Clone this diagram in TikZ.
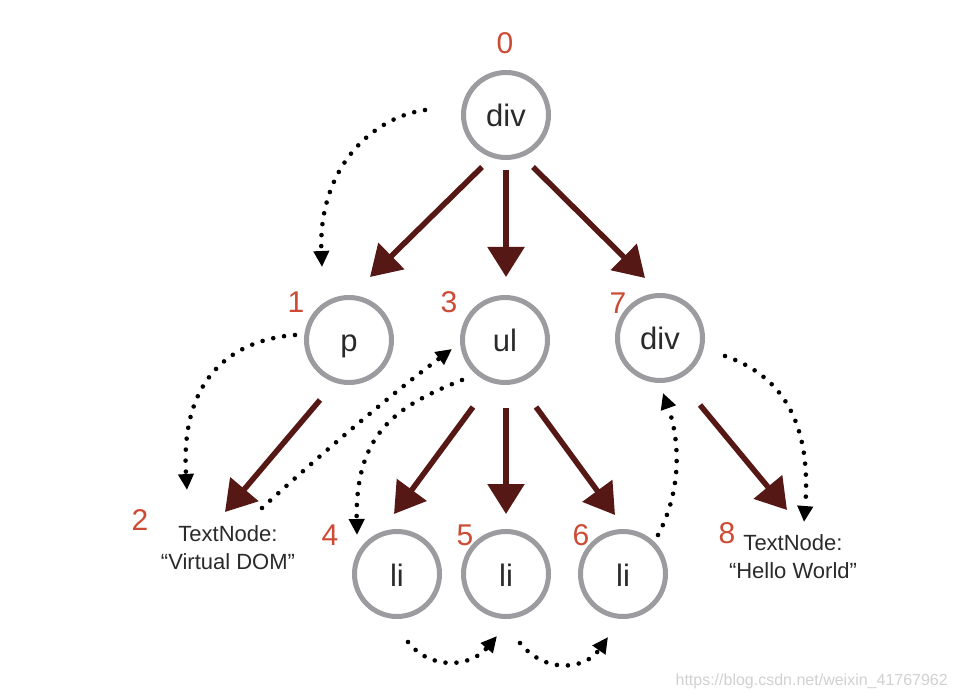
\documentclass[tikz,border=0pt]{standalone}
\usepackage{fontspec}
\setmainfont{Liberation Sans}
\usetikzlibrary{arrows.meta,calc}
\definecolor{ringgray}{HTML}{9B9BA0}
\definecolor{maroon}{HTML}{561814}
\definecolor{numred}{HTML}{CD4B35}
\definecolor{txtdark}{HTML}{2A2A2A}
\tikzset{
  vnode/.style={circle,draw=ringgray,line width=5pt,minimum size=85pt,inner sep=0pt,
    text=txtdark,font=\fontsize{31}{31}\selectfont,text height=24pt,text depth=0pt},
  numlbl/.style={inner sep=0pt,text=numred,font=\fontsize{30}{30}\selectfont},
  txtnode/.style={inner sep=0pt,align=center,text=txtdark,font=\fontsize{22}{28}\selectfont},
  redarr/.style={draw=maroon,line width=5.5pt,-{Triangle[length=30pt,width=36pt]}},
  dotarr/.style={draw=black,line width=4.6pt,line cap=round,dash pattern=on 0pt off 11pt,
    -{Triangle[length=16pt,width=15pt]}},
}
\begin{document}
\begin{tikzpicture}[x=1pt,y=-1pt]
\path[use as bounding box,fill=white] (0,0) rectangle (958,700);
% nodes
\node[vnode] (n0) at (506,115) {div};
\node[vnode] (n1) at (349,340) {p};
\node[vnode] (n3) at (505,340) {ul};
\node[vnode] (n7) at (660,338) {div};
\node[vnode] (n4) at (397,574) {li};
\node[vnode] (n5) at (506,574) {li};
\node[vnode] (n6) at (623,574) {li};
\node[txtnode] (tn2) at (228,548) {TextNode:\\“Virtual DOM”};
\node[txtnode] (tn8) at (793,557) {TextNode:\\“Hello World”};
% numbers
\node[numlbl] (l0) at (505,43) {0};
\node[numlbl] (l1) at (296,302) {1};
\node[numlbl] (l2) at (140,520) {2};
\node[numlbl] (l3) at (449,302) {3};
\node[numlbl] (l4) at (330,535) {4};
\node[numlbl] (l5) at (465,535) {5};
\node[numlbl] (l6) at (581,535) {6};
\node[numlbl] (l7) at (618,303) {7};
\node[numlbl] (l8) at (727,533) {8};
% red tree arrows
\draw[redarr] ($(n0)+(-24,52)$) -- ($(n1)+(21,-63)$);
\draw[redarr] ($(n0)+(0,55)$) -- ($(n3)+(1,-63)$);
\draw[redarr] ($(n0)+(27,52)$) -- ($(n7)+(-15,-60)$);
\draw[redarr] ($(n1)+(-29,60)$) -- ($(tn2)+(-3,-36)$);
\draw[redarr] ($(n3)+(-32,67)$) -- ($(n4)+(-3,-60)$);
\draw[redarr] ($(n3)+(1,68)$) -- ($(n5)+(0,-60)$);
\draw[redarr] ($(n3)+(31,67)$) -- ($(n6)+(-8,-59)$);
\draw[redarr] ($(n7)+(40,67)$) -- ($(tn8)+(-6,-47)$);
% dotted traversal arrows
\draw[dotarr] ($(n0)+(-81,-5)$) .. controls (370,118) and (318,170) .. ($(n1)+(-27,-73)$);
\draw[dotarr] ($(n1)+(-54,-5)$) .. controls (230,340) and (180,380) .. ($(tn2)+(-41,-58)$);
\draw[dotarr] ($(tn2)+(34,-40)$) .. controls (320,455) and (390,395) .. ($(n3)+(-53,9)$);
\draw[dotarr] ($(n3)+(-43,40)$) .. controls (400,405) and (355,430) .. ($(n4)+(-40,-39)$);
\draw[dotarr] ($(n4)+(11,68)$) .. controls (430,670) and (470,668) .. ($(n5)+(-9,62)$);
\draw[dotarr] ($(n5)+(14,69)$) .. controls (545,674) and (585,670) .. ($(n6)+(-15,63)$);
\draw[dotarr] ($(n6)+(35,-39)$) .. controls (682,490) and (680,440) .. ($(n7)+(3,55)$);
\draw[dotarr] ($(n7)+(65,18)$) .. controls (780,375) and (812,420) .. ($(tn8)+(11,-35)$);
% watermark
\node[inner sep=0pt,text=black!18,font=\fontsize{16}{16}\selectfont,anchor=east] (wm) at (948,681) {https://blog.csdn.net/weixin\_41767962};
\end{tikzpicture}
\end{document}
